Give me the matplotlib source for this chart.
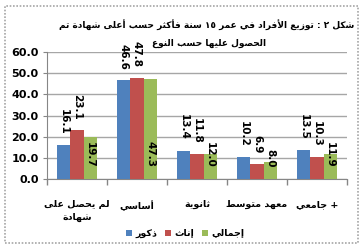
import numpy as np
import matplotlib
matplotlib.use('Agg')
import matplotlib.pyplot as plt
from matplotlib.patches import Rectangle

# data
categories = ['لم يحصل على\nشهادة', 'أساسي', 'ثانوية', 'معهد متوسط', '+ جامعي']
male = [16.1, 46.6, 13.4, 10.2, 13.5]
female = [23.1, 47.8, 11.8, 6.9, 10.3]
total = [19.7, 47.3, 12.0, 8.0, 11.9]
series_names = ['ذكور', 'إناث', 'إجمالي']
title_lines = ['شكل ٢ : توزيع الأفراد في عمر ١٥ سنة فأكثر حسب أعلى شهادة تم',
               'الحصول عليها حسب النوع']
colors = ['#4F81BD', '#C0504D', '#9BBB59']

# --- minimal arabic shaping (matplotlib has no bidi / joining) ---
# forms: isolated, final, initial, medial
FORMS = {
    'ء': (0xFE80,), 'آ': (0xFE81, 0xFE82), 'أ': (0xFE83, 0xFE84),
    'ؤ': (0xFE85, 0xFE86), 'إ': (0xFE87, 0xFE88),
    'ئ': (0xFE89, 0xFE8A, 0xFE8B, 0xFE8C), 'ا': (0xFE8D, 0xFE8E),
    'ب': (0xFE8F, 0xFE90, 0xFE91, 0xFE92), 'ة': (0xFE93, 0xFE94),
    'ت': (0xFE95, 0xFE96, 0xFE97, 0xFE98), 'ث': (0xFE99, 0xFE9A, 0xFE9B, 0xFE9C),
    'ج': (0xFE9D, 0xFE9E, 0xFE9F, 0xFEA0), 'ح': (0xFEA1, 0xFEA2, 0xFEA3, 0xFEA4),
    'خ': (0xFEA5, 0xFEA6, 0xFEA7, 0xFEA8), 'د': (0xFEA9, 0xFEAA),
    'ذ': (0xFEAB, 0xFEAC), 'ر': (0xFEAD, 0xFEAE), 'ز': (0xFEAF, 0xFEB0),
    'س': (0xFEB1, 0xFEB2, 0xFEB3, 0xFEB4), 'ش': (0xFEB5, 0xFEB6, 0xFEB7, 0xFEB8),
    'ص': (0xFEB9, 0xFEBA, 0xFEBB, 0xFEBC), 'ض': (0xFEBD, 0xFEBE, 0xFEBF, 0xFEC0),
    'ط': (0xFEC1, 0xFEC2, 0xFEC3, 0xFEC4), 'ظ': (0xFEC5, 0xFEC6, 0xFEC7, 0xFEC8),
    'ع': (0xFEC9, 0xFECA, 0xFECB, 0xFECC), 'غ': (0xFECD, 0xFECE, 0xFECF, 0xFED0),
    'ف': (0xFED1, 0xFED2, 0xFED3, 0xFED4), 'ق': (0xFED5, 0xFED6, 0xFED7, 0xFED8),
    'ك': (0xFED9, 0xFEDA, 0xFEDB, 0xFEDC), 'ل': (0xFEDD, 0xFEDE, 0xFEDF, 0xFEE0),
    'م': (0xFEE1, 0xFEE2, 0xFEE3, 0xFEE4), 'ن': (0xFEE5, 0xFEE6, 0xFEE7, 0xFEE8),
    'ه': (0xFEE9, 0xFEEA, 0xFEEB, 0xFEEC), 'و': (0xFEED, 0xFEEE),
    'ى': (0xFEEF, 0xFEF0), 'ي': (0xFEF1, 0xFEF2, 0xFEF3, 0xFEF4),
}
LAM_ALEF = {'آ': (0xFEF5, 0xFEF6), 'أ': (0xFEF7, 0xFEF8),
            'إ': (0xFEF9, 0xFEFA), 'ا': (0xFEFB, 0xFEFC)}
DIGITS = set('0123456789٠١٢٣٤٥٦٧٨٩.')


def joins_next(c):
    return c in FORMS and len(FORMS[c]) == 4


def shape_line(s):
    out = []
    i = 0
    while i < len(s):
        c = s[i]
        if c not in FORMS:
            out.append(c)
            i += 1
            continue
        prev_j = i > 0 and joins_next(s[i - 1]) and out and out[-1] != ' '
        if c == 'ل' and i + 1 < len(s) and s[i + 1] in LAM_ALEF:
            f = LAM_ALEF[s[i + 1]]
            out.append(chr(f[1] if prev_j else f[0]))
            i += 2
            continue
        nxt = i + 1 < len(s) and s[i + 1] in FORMS
        f = FORMS[c]
        if len(f) == 4 and prev_j and nxt:
            g = f[3]
        elif prev_j and len(f) > 1:
            g = f[1]
        elif len(f) == 4 and nxt:
            g = f[2]
        else:
            g = f[0]
        out.append(chr(g))
        i += 1
    # visual order: reverse, but keep digit runs left-to-right
    vis = ''.join(out)[::-1]
    res, run = [], ''
    for ch in vis:
        if ch in DIGITS:
            run += ch
        else:
            res.append(run[::-1])
            run = ''
            res.append(ch)
    res.append(run[::-1])
    return ''.join(res)


def ar(s):
    return '\n'.join(shape_line(l) for l in s.split('\n'))


plt.rcParams['font.family'] = ['DejaVu Sans']

fig = plt.figure(figsize=(3.64, 2.5), dpi=100)
ax = fig.add_axes([47 / 364, 1 - 179 / 250, 300 / 364, 127 / 250])

x = np.arange(len(categories))
w = 0.22
for k, vals in enumerate([male, female, total]):
    ax.bar(x + (k - 1) * w, vals, w, color=colors[k], label=ar(series_names[k]), zorder=3)

# rotated data labels (green ones sit low inside the bars as in the source)
for k, vals in enumerate([male, female, total]):
    for i, v in enumerate(vals):
        y = v + 5 if k < 2 else 5.5
        ax.text(x[i] + (k - 1) * w, y, f'{v:.1f}', rotation=-90, ha='center', va='bottom',
                fontsize=7.5, fontweight='bold', zorder=4, clip_on=False)

ax.set_xlim(-0.5, len(categories) - 0.5)
ax.set_ylim(0, 60)
ax.set_yticks(np.arange(0, 61, 10))
ax.set_yticklabels([f'{t:.1f}' for t in np.arange(0, 61, 10)], fontsize=8, fontweight='bold')
ax.yaxis.grid(True, color='#A6A6A6', linewidth=1, zorder=0)
ax.set_axisbelow(True)

ax.set_xticks(np.arange(-0.5, len(categories), 1))
ax.set_xticklabels([])
ax.tick_params(axis='x', length=4, color='#868686', width=1)
ax.tick_params(axis='y', length=3, color='#868686', pad=3)
for i, c in enumerate(categories):
    ax.text(x[i], -10, ar(c), ha='center', va='top', fontsize=6.8, fontweight='bold',
            linespacing=1.5, transform=ax.transData)

for s in ['top', 'right']:
    ax.spines[s].set_visible(False)
for s in ['left', 'bottom']:
    ax.spines[s].set_color('#868686')

# title: size the font so line 1 spans about as much as in the source
t1 = fig.text(207 / 364, 1 - 25 / 250, ar(title_lines[0]), ha='center', va='center',
              fontsize=8, fontweight='bold')
t2 = fig.text(209 / 364, 1 - 43 / 250, ar(title_lines[1]), ha='center', va='center',
              fontsize=8, fontweight='bold')
r = fig.canvas.get_renderer()
fs = 8 * 296 / t1.get_window_extent(r).width
t1.set_fontsize(fs)
t2.set_fontsize(fs)

leg = fig.legend(loc='center', bbox_to_anchor=(185 / 364, 1 - 234 / 250), ncol=3,
                 frameon=False, handlelength=0.7, handleheight=0.7,
                 handletextpad=0.3, columnspacing=0.8, prop={'weight': 'bold', 'size': 6.8})

fig.patches.append(Rectangle((5 / 364, 1 - 243 / 250), 353 / 364, 237 / 250,
                             transform=fig.transFigure, fill=False, edgecolor='#A6A6A6',
                             linestyle=(0, (1, 1)), linewidth=1.2))

fig.savefig('out.png', dpi=100)
